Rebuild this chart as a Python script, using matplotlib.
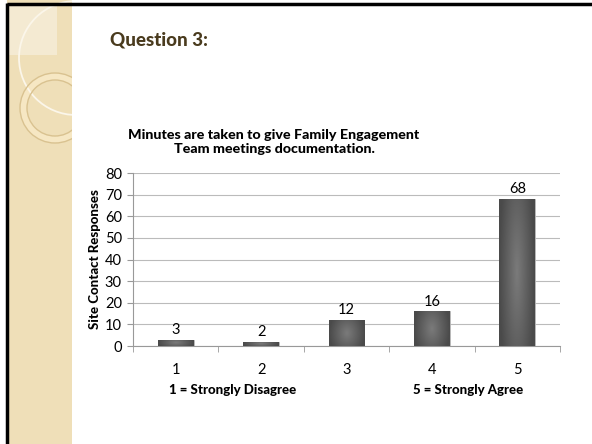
import matplotlib
matplotlib.use("Agg")
import matplotlib.pyplot as plt
import numpy as np
from matplotlib.patches import Rectangle, Circle

categories = ["1", "2", "3", "4", "5"]
values = [3, 2, 12, 16, 68]
yticks = [0, 10, 20, 30, 40, 50, 60, 70, 80]
title = "Minutes are taken to give Family Engagement\nTeam meetings documentation."
ylabel = "Site Contact Responses"
slide_title = "Question 3:"
left_note = "1 = Strongly Disagree"
right_note = "5 = Strongly Agree"

plt.rcParams['font.family'] = ['Lato', 'DejaVu Sans']

W, H = 592, 444
fig = plt.figure(figsize=(W/100, H/100), dpi=100)
fig.patch.set_facecolor('white')

def fx(px): return px / W
def fy(py): return 1 - py / H

# decorations in a pixel-coordinate axes
deco = fig.add_axes([0, 0, 1, 1], zorder=0)
deco.set_xlim(0, W); deco.set_ylim(H, 0); deco.axis('off')
deco.add_patch(Rectangle((7, 0), 65, H, facecolor='#efdfb8', edgecolor='none', zorder=1))
clip = Rectangle((7, 0), 65, H, transform=deco.transData)
lite = Rectangle((9, 6), 48, 49, facecolor='#f4ead2', edgecolor='none', zorder=1.5)
deco.add_patch(lite)
c1 = Circle((76, 58), 57, facecolor='none', edgecolor='#fbf6ea', lw=1.3, zorder=2)
c2b = Circle((55, 108), 31.5, facecolor='none', edgecolor='#f6e7c3', lw=5, zorder=2)
c2 = Circle((55, 108), 35, facecolor='none', edgecolor='#d9c290', lw=1.0, zorder=2)
c3 = Circle((55, 108), 28, facecolor='none', edgecolor='#d9c290', lw=1.0, zorder=2)
for c in (c2b, c1, c2, c3):
    deco.add_patch(c)
    c.set_clip_path(clip)

# slide border
deco.plot([7, W], [4.5, 4.5], color='black', lw=2.5, solid_capstyle='butt', zorder=3)
deco.plot([6.5, 6.5], [3, H], color='black', lw=2.5, solid_capstyle='butt', zorder=3)

fig.text(fx(110), fy(40), slide_title, fontsize=13.5, fontweight='black', color='#4a3b1e',
         ha='left', va='center')

ax = fig.add_axes([fx(133), fy(346), fx(560) - fx(133), fy(173) - fy(346)], zorder=1)
ax.set_facecolor('none')
x = np.arange(len(categories))
bars = ax.bar(x, values, width=0.42, color='#555555', edgecolor='#bbbbbb', linewidth=0.6, zorder=3)

# gradient fill on bars
grad = np.linspace(-1, 1, 64)
gx, gy = np.meshgrid(grad, grad)
img = 1 - np.clip(np.sqrt(gx**2 * 1.0 + gy**2 * 0.3), 0, 1)
cmap = matplotlib.colors.LinearSegmentedColormap.from_list('g', ['#4a4a4a', '#7a7a7a'])
for b in bars:
    x0, y0 = b.get_x(), b.get_y()
    w, h = b.get_width(), b.get_height()
    im = ax.imshow(img, extent=[x0, x0 + w, y0, y0 + h], cmap=cmap,
                   aspect='auto', zorder=3.5, interpolation='bilinear')
    im.set_clip_path(b)

for xi, v in zip(x, values):
    ax.text(xi, v + 1.2, str(v), ha='center', va='bottom', fontsize=10.5, color='black')

ax.set_xlim(-0.5, len(categories) - 0.5)
ax.set_ylim(0, 80)
ax.set_yticks(yticks)
ax.set_yticklabels([str(t) for t in yticks], fontsize=10.5)
ax.set_xticks(x)
ax.set_xticklabels(categories, fontsize=10.5)
ax.tick_params(axis='x', length=0, pad=12)
ax.set_xticks(np.arange(-0.5, len(categories)), minor=True)
ax.tick_params(axis='x', which='minor', length=4, color='#999999')
ax.tick_params(axis='y', length=4, color='#999999', pad=4)
ax.yaxis.grid(True, color='#bbbbbb', lw=0.8, zorder=0)
for s in ['top', 'right']:
    ax.spines[s].set_visible(False)
ax.spines['left'].set_color('#999999')
ax.spines['bottom'].set_color('#999999')
ax.set_ylabel(ylabel, fontsize=9.5, fontweight='black', labelpad=3)

fig.text(fx(274), fy(142), title, ha='center', va='center', fontsize=10.3, fontweight='black',
         linespacing=1.2)
fig.text(fx(233), fy(390), left_note, ha='center', va='center', fontsize=9.5, fontweight='black')
fig.text(fx(468), fy(390), right_note, ha='center', va='center', fontsize=9.5, fontweight='black')

fig.savefig('out.png', dpi=100)
